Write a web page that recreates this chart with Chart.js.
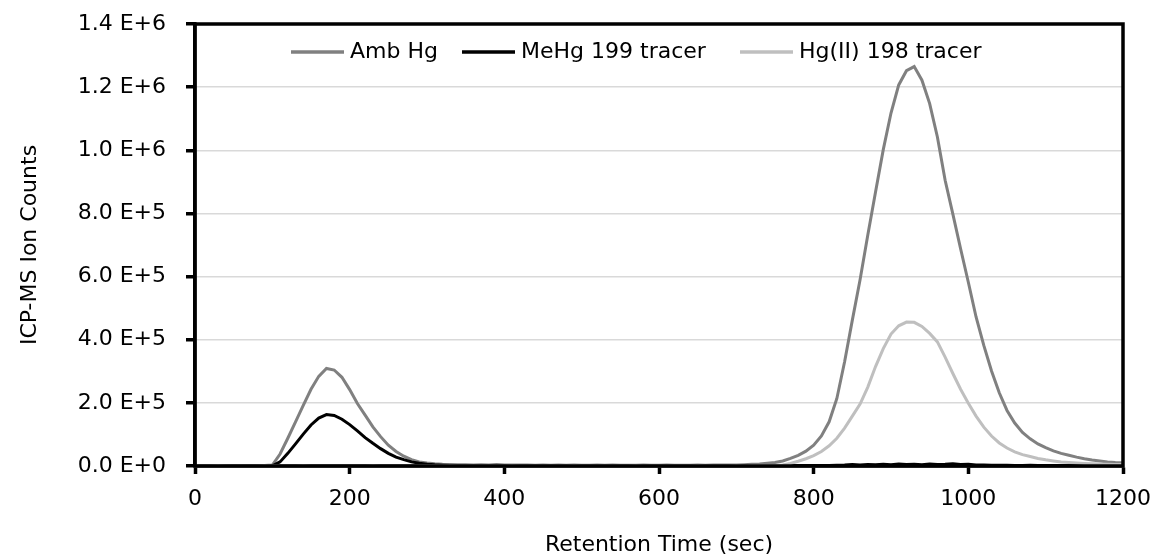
<!DOCTYPE html>
<html>
<head>
<meta charset="utf-8">
<script src="https://cdn.jsdelivr.net/npm/chart.js@4"></script>
<style>
  html, body { margin: 0; padding: 0; background: #fff; }
  #wrap { width: 1158px; height: 559px; }
</style>
</head>
<body>
<div id="wrap"><canvas id="cromatograma" width="1158" height="559"></canvas></div>
<script>
// Cromatograma ICP-MS: tiempo de retención (s) vs cuentas

// tiempo de retención (sec), cada 10 s
const timeSec = [
  0, 10, 20, 30, 40, 50, 60, 70, 80, 90,
  100, 110, 120, 130, 140, 150, 160, 170, 180, 190,
  200, 210, 220, 230, 240, 250, 260, 270, 280, 290,
  300, 310, 320, 330, 340, 350, 360, 370, 380, 390,
  400, 410, 420, 430, 440, 450, 460, 470, 480, 490,
  500, 510, 520, 530, 540, 550, 560, 570, 580, 590,
  600, 610, 620, 630, 640, 650, 660, 670, 680, 690,
  700, 710, 720, 730, 740, 750, 760, 770, 780, 790,
  800, 810, 820, 830, 840, 850, 860, 870, 880, 890,
  900, 910, 920, 930, 940, 950, 960, 970, 980, 990,
  1000, 1010, 1020, 1030, 1040, 1050, 1060, 1070, 1080, 1090,
  1100, 1110, 1120, 1130, 1140, 1150, 1160, 1170, 1180, 1190,
  1200
];

// Amb Hg
const ambHg = [
  1500, 1200, 1800, 1400, 1600, 1300, 1700, 1500, 1400, 1800,
  3000, 38000, 88000, 140000, 192000, 243000, 284000, 309000, 304000, 281000,
  242000, 198000, 161000, 124000, 93000, 66000, 46000, 31000, 20000, 13000,
  9500, 7000, 5600, 4800, 4200, 3900, 3500, 3700, 3200, 4500,
  3000, 3300, 2800, 3100, 2600, 3200, 2700, 2900, 2500, 3000,
  2700, 2400, 3100, 2600, 2800, 2300, 2700, 2500, 2900, 2400,
  2600, 2800, 2300, 2700, 2500, 3000, 2600, 2800, 3100, 2900,
  3400, 4200, 5200, 6500, 8500, 11000, 16000, 24000, 34000, 47000,
  66000, 95000, 140000, 214000, 330000, 462000, 590000, 732000, 868000, 1002000,
  1118000, 1207000, 1252000, 1265000, 1222000, 1148000, 1042000, 905000, 798000, 688000,
  582000, 472000, 382000, 301000, 232000, 176000, 136000, 106000, 86000, 70000,
  58000, 48000, 40000, 34000, 28000, 23000, 19000, 16000, 13000, 11000,
  10000
];

// MeHg 199 tracer
const meHg199 = [
  300, 500, 200, 400, 300, 600, 200, 400, 300, 500,
  500, 13000, 40000, 70000, 101000, 130000, 152000, 163000, 160000, 148000,
  131000, 111000, 90000, 72000, 55000, 40000, 28000, 20000, 13000, 8500,
  5500, 3600, 2400, 1700, 1200, 900, 700, 800, 600, 700,
  500, 600, 400, 700, 500, 600, 400, 500, 700, 500,
  600, 400, 500, 600, 400, 700, 500, 600, 400, 500,
  600, 500, 700, 400, 600, 500, 400, 600, 500, 700,
  500, 600, 800, 600, 900, 700, 800, 1000, 900, 1200,
  1100, 1400, 1500, 2500, 3000, 4500, 3500, 5000, 4000, 5500,
  4200, 6000, 4500, 5200, 4000, 6500, 4800, 5500, 6800, 4500,
  5200, 3500, 3000, 2600, 2000, 2500, 1800, 1500, 2000, 1200,
  1500, 1100, 1300, 900, 1200, 1000, 1100, 800, 1000, 900,
  1000
];

// Hg(II) 198 tracer
const hgII198 = [
  900, 1100, 800, 1200, 1000, 900, 1100, 1000, 800, 1200,
  1000, 900, 1100, 1000, 1200, 900, 1000, 1100, 1000, 900,
  1100, 1000, 900, 1200, 1000, 1100, 900, 1000, 1100, 1000,
  900, 1100, 1000, 1200, 900, 1000, 1100, 1000, 900, 1100,
  1000, 1200, 900, 1000, 1100, 1000, 900, 1100, 1000, 1200,
  900, 1000, 1100, 1000, 900, 1100, 1000, 1200, 900, 1000,
  1100, 1000, 900, 1100, 1000, 1200, 1000, 900, 1100, 1000,
  1200, 1100, 1300, 1200, 1500, 1800, 3000, 8000, 15000, 23000,
  33000, 46000, 64000, 88000, 120000, 158000, 196000, 250000, 315000, 372000,
  418000, 444000, 456000, 455000, 442000, 420000, 393000, 345000, 293000, 243000,
  199000, 158000, 123000, 95000, 73000, 57000, 45000, 36000, 30000, 24000,
  19500, 16000, 13000, 11000, 9500, 8000, 7000, 6000, 5500, 5000,
  4800
];

const seriesLabels = ['Amb Hg', 'MeHg 199 tracer', 'Hg(II) 198 tracer'];
const yTickLabels = ['0.0 E+0', '2.0 E+5', '4.0 E+5', '6.0 E+5', '8.0 E+5', '1.0 E+6', '1.2 E+6', '1.4 E+6'];
const xTickLabels = ['0', '200', '400', '600', '800', '1000', '1200'];

const FONT = 'DejaVu Sans';

// helper: pares {x, y} para el eje lineal
function toPoints(values) {
  return values.map((v, i) => ({ x: timeSec[i], y: v }));
}

// borde negro alrededor del área de trazado
const plotBorder = {
  id: 'plotBorder',
  afterDatasetsDraw(chart) {
    const a = chart.chartArea;
    const ctx = chart.ctx;
    ctx.save();
    ctx.strokeStyle = '#000';
    ctx.lineWidth = 3.5;
    ctx.strokeRect(a.left, a.top, a.right - a.left, a.bottom - a.top);
    ctx.restore();
  }
};

// leyenda dentro del gráfico, en una fila
const inlineLegend = {
  id: 'inlineLegend',
  afterDraw(chart) {
    const ctx = chart.ctx;
    const startX = [291, 462, 740];
    const y = 52;
    ctx.save();
    ctx.font = '22px "' + FONT + '"';
    ctx.textBaseline = 'middle';
    ctx.fillStyle = '#000';
    chart.data.datasets.forEach((ds, i) => {
      ctx.strokeStyle = ds.borderColor;
      ctx.lineWidth = 3.5;
      ctx.beginPath();
      ctx.moveTo(startX[i], y);
      ctx.lineTo(startX[i] + 53, y);
      ctx.stroke();
      ctx.fillText(ds.label, startX[i] + 59, y);
    });
    ctx.restore();
  }
};

const ctx = document.getElementById('cromatograma').getContext('2d');

new Chart(ctx, {
  type: 'line',
  data: {
    datasets: [
      { label: seriesLabels[0], data: toPoints(ambHg), borderColor: '#808080', order: 3 },
      { label: seriesLabels[1], data: toPoints(meHg199), borderColor: '#000000', order: 2 },
      { label: seriesLabels[2], data: toPoints(hgII198), borderColor: '#bfbfbf', order: 1 }
    ]
  },
  options: {
    responsive: false,
    animation: false,
    devicePixelRatio: 1,
    elements: {
      line: { borderWidth: 3, tension: 0, fill: false },
      point: { radius: 0 }
    },
    layout: { padding: { left: 0, top: 24, right: 35, bottom: 0 } },
    plugins: {
      legend: { display: false },
      tooltip: { enabled: false }
    },
    scales: {
      x: {
        type: 'linear',
        min: 0,
        max: 1200,
        afterFit(scale) {
          scale.height = 93;
          scale.paddingLeft = 0;
          scale.paddingRight = 0;
        },
        ticks: {
          stepSize: 200,
          padding: 12,
          color: '#000',
          font: { family: FONT, size: 22 },
          callback: (v) => xTickLabels[v / 200]
        },
        grid: {
          drawOnChartArea: false,
          drawTicks: true,
          tickLength: 8,
          tickColor: '#000',
          tickWidth: 3.5
        },
        border: { color: '#000', width: 3.5 },
        title: {
          display: true,
          text: 'Retention Time (sec)',
          color: '#000',
          font: { family: FONT, size: 22 },
          padding: { top: 0, bottom: 1 }
        }
      },
      y: {
        min: 0,
        max: 1400000,
        afterFit(scale) {
          scale.width = 195;
          scale.paddingTop = 0;
          scale.paddingBottom = 0;
        },
        ticks: {
          stepSize: 200000,
          padding: 20,
          color: '#000',
          font: { family: FONT, size: 22 },
          callback: (v) => yTickLabels[Math.round(v / 200000)]
        },
        grid: {
          color: '#d9d9d9',
          lineWidth: 1.5,
          drawTicks: true,
          tickLength: 9,
          tickColor: '#000',
          tickWidth: 3.5
        },
        border: { color: '#000', width: 3.5 },
        title: {
          display: true,
          text: 'ICP-MS Ion Counts',
          color: '#000',
          font: { family: FONT, size: 22 },
          padding: { top: 17, bottom: 0 }
        }
      }
    }
  },
  plugins: [plotBorder, inlineLegend]
});
</script>
</body>
</html>
